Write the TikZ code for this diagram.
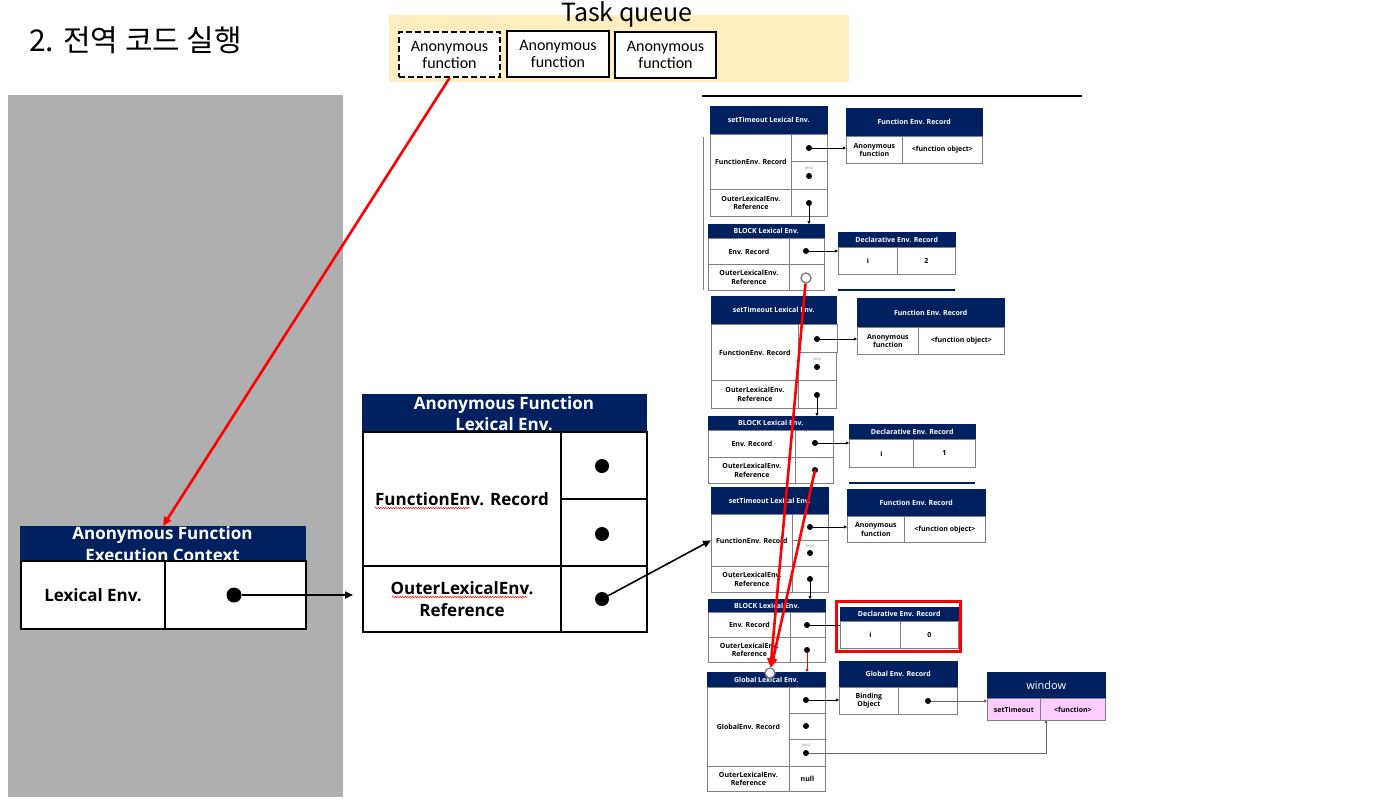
\documentclass[tikz,border=0pt]{standalone}
\usepackage{fontspec}
\setmainfont{Open Sans}
\newfontfamily\krfont{Noto Sans CJK KR}
\newfontfamily\calfont{Carlito}
\usetikzlibrary{arrows.meta,decorations.pathmorphing}
\definecolor{navy}{HTML}{002060}
\definecolor{bggray}{HTML}{AFAFAF}
\definecolor{tqyellow}{HTML}{FFEFC0}
\definecolor{pinkc}{HTML}{FFCCFF}
\definecolor{cellgray}{HTML}{808080}
\newcommand{\hbx}[6]{\node[hdr, minimum width=#4pt, minimum height=#5pt] (#1) at (#2,#3) {#6};}
\newcommand{\cbx}[6]{\node[cell, minimum width=#4pt, minimum height=#5pt] (#1) at (#2,#3) {#6};}
\tikzset{
  hdr/.style={fill=navy, draw=navy, text=white, anchor=north west, inner sep=0pt, align=center, font=\bfseries\fontsize{7}{8.5}\selectfont},
  cell/.style={draw=cellgray, fill=white, anchor=north west, inner sep=0pt, align=center, line width=0.8pt, font=\bfseries\fontsize{7}{8.5}\selectfont},
  bighdr/.style={fill=navy, draw=navy, anchor=north west, inner sep=0pt, line width=1pt},
  bightext/.style={text=white, anchor=base, inner sep=0pt, font=\bfseries\fontsize{17}{21}\selectfont},
  bigcell/.style={draw=black, fill=white, anchor=north west, line width=2pt, inner sep=0pt, align=center, font=\bfseries\fontsize{17}{22}\selectfont},
  tqbox/.style={draw=black, fill=white, anchor=north west, line width=2pt, inner sep=0pt, align=center, font=\calfont\fontsize{16}{17}\selectfont},
  dotn/.style={circle, fill=black, inner sep=0pt, minimum size=6pt},
  bigdot/.style={circle, fill=black, inner sep=0pt, minimum size=14pt},
  thislbl/.style={inner sep=0pt, text=cellgray, font=\fontsize{3.5}{4}\selectfont},
  hollow/.style={circle, draw=gray, fill=white, line width=1.4pt, minimum size=10pt, inner sep=0pt},
  sarrow/.style={-{Triangle[length=3pt,width=3pt]}, line width=0.6pt, black},
  garrow/.style={-{Triangle[length=3pt,width=3pt]}, line width=0.8pt, black!60},
  barrow/.style={-{Triangle[length=8pt,width=7pt]}, line width=1.6pt, black},
  redthick/.style={-{Triangle[length=9pt,width=8pt]}, line width=2.6pt, red},
  redthin/.style={-{Triangle[length=3pt,width=3pt]}, line width=0.8pt, red},
  squig/.style={red, line width=0.5pt, decorate, decoration={snake, amplitude=0.7pt, segment length=2.5pt}},
}
\begin{document}
\begin{tikzpicture}[x=1pt,y=-1pt]
\useasboundingbox (0,0) rectangle (1392,804);
\fill[white] (0,0) rectangle (1392,804);

% title
\node[anchor=west, inner sep=0pt, font=\krfont\fontsize{30}{33}\selectfont] (title) at (29,40) {2. 전역 코드 실행};

% task queue
\node[fill=tqyellow, anchor=north west, minimum width=460pt, minimum height=67pt, inner sep=0pt] (tq) at (389,15) {};
\node[inner sep=0pt, font=\krfont\fontsize{25}{28}\selectfont] (tqlabel) at (627,14) {Task queue};
\node[tqbox, dashed, dash pattern=on 6pt off 3pt, minimum width=101pt, minimum height=45pt] (tq1) at (398,31) {Anonymous\\function};
\node[tqbox, minimum width=102pt, minimum height=46pt] (tq2) at (506,30) {Anonymous\\function};
\node[tqbox, minimum width=101pt, minimum height=46pt] (tq3) at (614,31) {Anonymous\\function};

% gray background
\node[fill=bggray, anchor=north west, minimum width=335pt, minimum height=702pt, inner sep=0pt] (bg) at (8,95) {};

% execution context
\node[bighdr, minimum width=285pt, minimum height=34pt] (ech) at (20,526) {};
\node[bightext] (ech1) at (162.5,539) {Anonymous Function};
\node[bightext] (ech2) at (162.5,561) {Execution Context};
\node[bigcell, minimum width=144pt, minimum height=68pt] (ecl) at (20,560) {Lexical Env.};
\node[bigcell, minimum width=141pt, minimum height=68pt] (ecr) at (164,560) {};
\node[bigdot, minimum size=15pt] (ecd) at (234,595) {};

% anonymous function lexical env
\node[bighdr, minimum width=284pt, minimum height=37pt] (mh) at (362,394) {};
\node[bightext] (mh1) at (504,409) {Anonymous Function};
\node[bightext] (mh2) at (504,430) {Lexical Env.};
\node[bigcell, minimum width=198pt, minimum height=134pt] (mfer) at (362,431) {FunctionEnv. Record};
\node[bigcell, minimum width=86pt, minimum height=67pt] (mr1) at (560,431) {};
\node[bigcell, minimum width=86pt, minimum height=67pt] (mr2) at (560,498) {};
\node[bigcell, minimum width=198pt, minimum height=66pt] (mol) at (362,565) {OuterLexicalEnv.\\Reference};
\node[bigcell, minimum width=86pt, minimum height=66pt] (mr3) at (560,565) {};
\node[bigdot] (md1) at (602,466) {};
\node[bigdot] (md2) at (602,534) {};
\node[bigdot] (md3) at (602,599) {};
\draw[squig] (375,508) -- (470,508);
\draw[squig] (392,597) -- (527,597);

% top separator
\draw[line width=2pt] (702,96) -- (1082,96);
\draw[line width=0.8pt, cellgray] (703,137) -- (703,290);

% ---------- group A ----------
\hbx{Ah}{710}{106}{117}{28}{setTimeout Lexical Env.}
\cbx{Afer}{710}{134}{81}{55}{FunctionEnv. Record}
\cbx{Ar1}{791}{134}{36}{27}{}
\cbx{Ar2}{791}{161}{36}{28}{}
\cbx{Aol}{710}{189}{81}{27}{OuterLexicalEnv.\\Reference}
\cbx{Ar3}{791}{189}{36}{27}{}
\node[dotn] (Ad1) at (809,148) {};
\node[thislbl] (At) at (809,168) {[this]};
\node[dotn] (Ad2) at (809,176) {};
\node[dotn] (Ad3) at (809,203) {};
\hbx{Afh}{846}{108}{136}{28}{Function Env. Record}
\cbx{Afa}{846}{136}{56}{27}{Anonymous\\function}
\cbx{Afo}{902}{136}{80}{27}{<function object>}
\hbx{Abh}{708}{224}{116}{14}{BLOCK Lexical Env.}
\cbx{Aer}{708}{238}{81}{26}{Env. Record}
\cbx{Abr1}{789}{238}{35}{26}{}
\cbx{Abol}{708}{264}{81}{26}{OuterLexicalEnv.\\Reference}
\cbx{Abr2}{789}{264}{35}{26}{}
\node[dotn] (Abd1) at (806,251) {};
\node[hollow] (hc1) at (806,278) {};
\hbx{Adh}{838}{232}{117}{15}{Declarative Env. Record}
\cbx{Adi}{838}{247}{59}{27}{i}
\cbx{Adv}{897}{247}{58}{27}{2}
\fill[navy] (838,289) rectangle (955,291);

% ---------- group B ----------
\hbx{Bh}{711}{296}{125}{28}{setTimeout Lexical Env.}
\cbx{Bfer}{711}{324}{87}{56}{FunctionEnv. Record}
\cbx{Br1}{798}{324}{39}{28}{}
\cbx{Br2}{798}{352}{38}{28}{}
\cbx{Bol}{711}{380}{87}{28}{OuterLexicalEnv.\\Reference}
\cbx{Br3}{798}{380}{38}{28}{}
\node[dotn] (Bd1) at (817,339) {};
\node[thislbl] (Bt) at (817,359) {[this]};
\node[dotn] (Bd2) at (817,367) {};
\node[dotn] (Bd3) at (817,395) {};
\hbx{Bfh}{857}{298}{147}{29}{Function Env. Record}
\cbx{Bfa}{857}{327}{61}{27}{Anonymous\\function}
\cbx{Bfo}{918}{327}{86}{27}{<function object>}
\hbx{Bbh}{708}{416}{125}{14}{BLOCK Lexical Env.}
\cbx{Ber}{708}{430}{87}{27}{Env. Record}
\cbx{Bbr1}{795}{430}{38}{27}{}
\cbx{Bbol}{708}{457}{87}{26}{OuterLexicalEnv.\\Reference}
\cbx{Bbr2}{795}{457}{38}{26}{}
\node[dotn] (Bbd1) at (815,443) {};
\node[dotn] (Bbd2) at (815,470) {};
\hbx{Bdh}{849}{424}{126}{15}{Declarative Env. Record}
\cbx{Bdi}{849}{439}{64}{28}{i}
\cbx{Bdv}{913}{439}{62}{28}{1}
\fill[navy] (849,482) rectangle (975,484);

% ---------- group C ----------
\hbx{Ch}{711}{487}{117}{27}{setTimeout Lexical Env.}
\cbx{Cfer}{711}{514}{81}{52}{FunctionEnv. Record}
\cbx{Cr1}{792}{514}{36}{26}{}
\cbx{Cr2}{792}{540}{36}{26}{}
\cbx{Col}{711}{566}{81}{26}{OuterLexicalEnv.\\Reference}
\cbx{Cr3}{792}{566}{36}{26}{}
\node[dotn] (Cd1) at (810,527) {};
\node[thislbl] (Ct) at (810,546) {[this]};
\node[dotn] (Cd2) at (810,553) {};
\node[dotn] (Cd3) at (810,579) {};
\hbx{Cfh}{847}{489}{138}{27}{Function Env. Record}
\cbx{Cfa}{847}{516}{57}{26}{Anonymous\\function}
\cbx{Cfo}{904}{516}{81}{26}{<function object>}
\hbx{Cbh}{708}{599}{117}{13}{BLOCK Lexical Env.}
\cbx{Cer}{708}{612}{82}{25}{Env. Record}
\cbx{Cbr1}{790}{612}{35}{25}{}
\cbx{Cbol}{708}{637}{82}{25}{OuterLexicalEnv.\\Reference}
\cbx{Cbr2}{790}{637}{35}{25}{}
\node[dotn] (Cbd1) at (807,625) {};
\node[dotn] (Cbd2) at (807,650) {};
\hbx{Cdh}{840}{607}{118}{14}{Declarative Env. Record}
\cbx{Cdi}{840}{621}{60}{27}{i}
\cbx{Cdv}{900}{621}{58}{27}{0}
\draw[red, line width=3pt] (836,601) rectangle (960,651);

% ---------- global ----------
\hbx{Gh}{707}{672}{118}{15}{Global Lexical Env.}
\cbx{Ger}{707}{687}{82}{79}{GlobalEnv. Record}
\cbx{Gr1}{789}{687}{36}{26}{}
\cbx{Gr2}{789}{713}{36}{26}{}
\cbx{Gr3}{789}{739}{36}{27}{}
\cbx{Gol}{707}{766}{82}{25}{OuterLexicalEnv.\\Reference}
\cbx{Gr4}{789}{766}{36}{25}{null}
\node[dotn] (Gd1) at (806,700) {};
\node[dotn] (Gd2) at (806,726) {};
\node[thislbl] (Gt) at (806,745) {[this]};
\node[dotn] (Gd3) at (806,753) {};
\hbx{Ggh}{839}{661}{118}{26}{Global Env. Record}
\cbx{Ggb}{839}{687}{59}{27}{Binding\\Object}
\cbx{Ggv}{898}{687}{59}{27}{}
\node[dotn] (Ggd) at (928,701) {};
\node[hdr, minimum width=118pt, minimum height=26pt, font=\fontsize{11}{13}\selectfont] (Wh) at (987,672) {window};
\node[cell, fill=pinkc, minimum width=53pt, minimum height=22pt] (Ws) at (987,698) {setTimeout};
\node[cell, fill=pinkc, minimum width=65pt, minimum height=22pt] (Wf) at (1040,698) {<function>};
\coordinate (wb) at (1046,720);

% ---------- connectors ----------
\draw[sarrow] (Ad1) -- (Ad1 -| Afa.west);
\draw[sarrow] (Ad3) -- (Ad3 |- Abh.north);
\draw[sarrow] (Abd1) -- (Abd1 -| Adi.west);
\draw[sarrow] (Bd1) -- (Bd1 -| Bfa.west);
\draw[sarrow] (Bd3) -- (Bd3 |- Bbh.north);
\draw[sarrow] (Bbd1) -- (Bbd1 -| Bdi.west);
\draw[sarrow] (Cd1) -- (Cd1 -| Cfa.west);
\draw[sarrow] (Cd3) -- (Cd3 |- Cbh.north);
\draw[line width=0.6pt] (Cbd1) -- (Cbd1 -| Cdi.west);
\draw[redthin] (Cbd2) -- (Cbd2 |- Gh.north);
\draw[sarrow] (Gd1) -- (Gd1 -| Ggb.west);
\draw[garrow] (Ggd) -- (Ggd -| Ws.west);
\draw[garrow] (Gd3) -| (wb);

\coordinate (ecend) at (353,595);
\draw[barrow] (ecd) -- (ecend);
\draw[barrow] (md3) -- (Cfer.west);

\node[hollow] (hc2) at (770,673) {};
\draw[redthick] (tq1.south) -- (ech.north);
\draw[redthick] (hc1) -- (hc2);
\draw[redthick] (Bbd2.center) -- (hc2);
\end{tikzpicture}
\end{document}
